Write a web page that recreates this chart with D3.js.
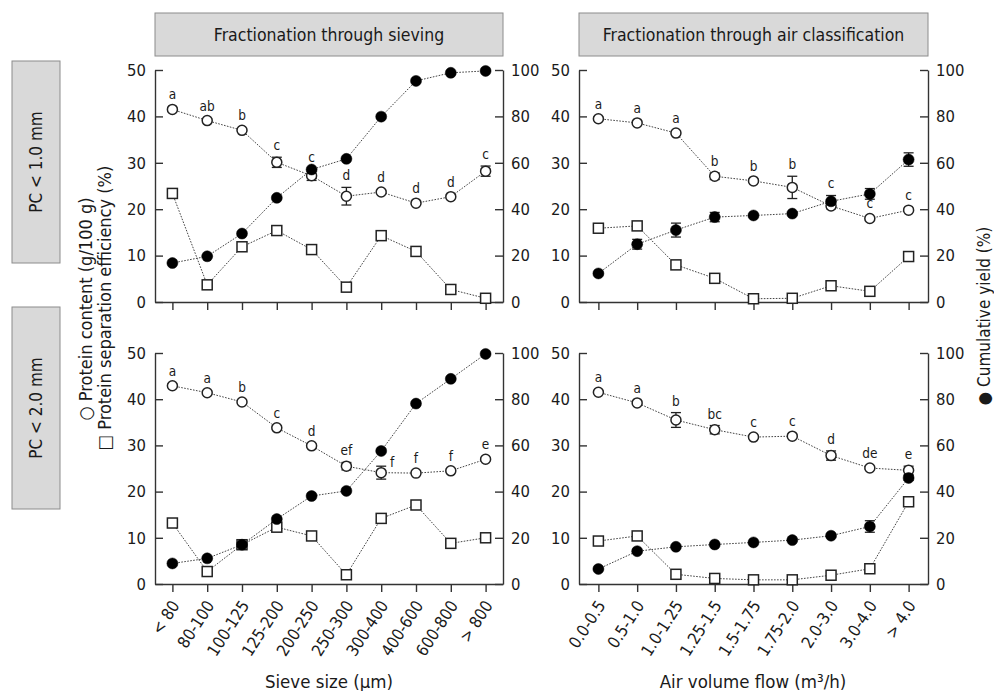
<!DOCTYPE html>
<html>
<head>
<meta charset="utf-8">
<script src="https://cdn.jsdelivr.net/npm/d3@7"></script>
<style>
body { margin: 0; background: #fff; }
svg text { font-family: "DejaVu Sans Condensed", "DejaVu Sans", sans-serif; fill: #1a1a1a; }
</style>
</head>
<body>
<div id="chart"></div>
<script>
// categories and ticks
var sieveCats = ["< 80", "80-100", "100-125", "125-200", "200-250", "250-300", "300-400", "400-600", "600-800", "> 800"];
var airCats = ["0.0-0.5", "0.5-1.0", "1.0-1.25", "1.25-1.5", "1.5-1.75", "1.75-2.0", "2.0-3.0", "3.0-4.0", "> 4.0"];
var leftTicks = [0, 10, 20, 30, 40, 50];
var rightTicks = [0, 20, 40, 60, 80, 100];
var colTitles = ["Fractionation through sieving", "Fractionation through air classification"];
var rowTitles = ["PC < 1.0 mm", "PC < 2.0 mm"];

// sieving, PC < 1.0 mm
var sieve1Protein = [41.5, 39.1, 37.0, 30.1, 27.2, 22.8, 23.7, 21.3, 22.7, 28.2];
var sieve1ProteinErr = [0.3, 0.3, 0.3, 1.1, 1.0, 1.9, 0.3, 0.3, 0.3, 1.1];
var sieve1Letters = ["a", "ab", "b", "c", "c", "d", "d", "d", "d", "c"];
var sieve1Separation = [23.4, 3.7, 11.9, 15.4, 11.3, 3.2, 14.3, 10.9, 2.7, 0.8];
var sieve1Yield = [16.8, 19.7, 29.5, 44.9, 57.1, 61.7, 79.9, 95.3, 98.8, 99.6];
var sieve1YieldErr = [0, 0, 0, 0, 0, 0, 0, 0, 0, 0];

// air classification, PC < 1.0 mm
var air1Protein = [39.5, 38.6, 36.4, 27.1, 26.1, 24.7, 20.7, 18.0, 19.8];
var air1ProteinErr = [0.3, 0.3, 0.3, 0.7, 0.3, 2.4, 0.6, 0.3, 0.3];
var air1Letters = ["a", "a", "a", "b", "b", "b", "c", "c", "c"];
var air1Separation = [15.9, 16.4, 8.0, 5.1, 0.7, 0.8, 3.5, 2.3, 9.8];
var air1Yield = [12.3, 24.9, 31.0, 36.6, 37.3, 38.1, 43.4, 46.6, 61.4];
var air1YieldErr = [0.5, 2.1, 3.0, 2.0, 0.5, 0.5, 2.5, 2.3, 2.9];

// sieving, PC < 2.0 mm
var sieve2Protein = [42.9, 41.4, 39.4, 33.8, 29.9, 25.5, 24.1, 24.0, 24.5, 27.0];
var sieve2ProteinErr = [0.3, 0.3, 0.3, 0.3, 0.3, 0.8, 1.4, 0.3, 0.3, 0.3];
var sieve2Letters = ["a", "a", "b", "c", "d", "ef", "f", "f", "f", "e"];
var sieve2Separation = [13.2, 2.7, 8.5, 12.3, 10.4, 2.0, 14.2, 17.1, 8.8, 10.0];
var sieve2Yield = [8.9, 11.1, 17.0, 28.1, 38.1, 40.3, 57.6, 78.1, 88.8, 99.6];
var sieve2YieldErr = [0, 0, 0, 0, 0, 0, 0, 0, 0, 0];

// air classification, PC < 2.0 mm
var air2Protein = [41.5, 39.2, 35.5, 33.4, 31.8, 32.0, 27.8, 25.1, 24.6];
var air2ProteinErr = [0.3, 0.3, 1.6, 0.9, 0.3, 0.3, 1.0, 0.3, 0.9];
var air2Letters = ["a", "a", "b", "bc", "c", "c", "d", "de", "e"];
var air2Separation = [9.3, 10.4, 2.1, 1.2, 0.9, 0.9, 1.9, 3.3, 17.8];
var air2Yield = [6.5, 14.2, 16.1, 17.1, 18.0, 19.0, 20.9, 24.9, 45.9];
var air2YieldErr = [0.3, 0.8, 0.3, 0.3, 0.3, 0.3, 0.5, 2.5, 1.0];

var width = 994, height = 691;
var cols = [{x0: 155, x1: 503}, {x0: 579, x1: 928}];
var rows = [{y0: 70, y1: 302}, {y0: 353, y1: 584}];

var panels = [
    {col: 0, row: 0, cats: sieveCats, protein: sieve1Protein, proteinErr: sieve1ProteinErr, letters: sieve1Letters,
     separation: sieve1Separation, yield: sieve1Yield, yieldErr: sieve1YieldErr, letterRight: []},
    {col: 1, row: 0, cats: airCats, protein: air1Protein, proteinErr: air1ProteinErr, letters: air1Letters,
     separation: air1Separation, yield: air1Yield, yieldErr: air1YieldErr, letterRight: []},
    {col: 0, row: 1, cats: sieveCats, protein: sieve2Protein, proteinErr: sieve2ProteinErr, letters: sieve2Letters,
     separation: sieve2Separation, yield: sieve2Yield, yieldErr: sieve2YieldErr, letterRight: [6]},
    {col: 1, row: 1, cats: airCats, protein: air2Protein, proteinErr: air2ProteinErr, letters: air2Letters,
     separation: air2Separation, yield: air2Yield, yieldErr: air2YieldErr, letterRight: []}
];

var axisColor = "#333";

var svg = d3.select("#chart").append("svg")
    .attr("width", width)
    .attr("height", height);

// column header boxes
cols.forEach(function (c, i) {
    svg.append("rect")
        .attr("x", c.x0).attr("y", 13)
        .attr("width", c.x1 - c.x0).attr("height", 43)
        .style("fill", "#d9d9d9").style("stroke", "#8c8c8c").style("stroke-width", 1);
    svg.append("text")
        .attr("x", (c.x0 + c.x1) / 2).attr("y", 35)
        .attr("dy", "0.35em")
        .style("text-anchor", "middle")
        .style("font-size", "17.5px")
        .text(colTitles[i]);
});

// row label boxes
var rowBoxes = [{y0: 61, y1: 263}, {y0: 307, y1: 509}];
rowBoxes.forEach(function (b, i) {
    svg.append("rect")
        .attr("x", 12).attr("y", b.y0)
        .attr("width", 48).attr("height", b.y1 - b.y0)
        .style("fill", "#d9d9d9").style("stroke", "#8c8c8c").style("stroke-width", 1);
    svg.append("text")
        .attr("transform", "translate(36," + (b.y0 + b.y1) / 2 + ") rotate(-90)")
        .attr("dy", "0.35em")
        .style("text-anchor", "middle")
        .style("font-size", "17px")
        .text(rowTitles[i]);
});

// left axis titles
svg.append("text")
    .attr("transform", "translate(86,309) rotate(-90)")
    .attr("dy", "0.35em")
    .style("text-anchor", "middle")
    .style("font-size", "18px")
    .text("\u25CB Protein content (g/100 g)");
svg.append("text")
    .attr("transform", "translate(105,308) rotate(-90)")
    .attr("dy", "0.35em")
    .style("text-anchor", "middle")
    .style("font-size", "18px")
    .text("\u25A1 Protein separation efficiency (%)");

// right axis title
svg.append("text")
    .attr("transform", "translate(984,316) rotate(-90)")
    .attr("dy", "0.35em")
    .style("text-anchor", "middle")
    .style("font-size", "17px")
    .text("\u25CF Cumulative yield (%)");

// x axis titles
svg.append("text")
    .attr("x", 329).attr("y", 682).attr("dy", "0.35em")
    .style("text-anchor", "middle").style("font-size", "18.5px")
    .text("Sieve size (\u00B5m)");
svg.append("text")
    .attr("x", 753).attr("y", 682).attr("dy", "0.35em")
    .style("text-anchor", "middle").style("font-size", "18.5px")
    .text("Air volume flow (m\u00B3/h)");

var styleAxis = function (g) {
    g.selectAll("path, line").style("stroke", axisColor).style("stroke-width", 1.4);
    g.selectAll("text").style("font-size", "16.5px").style("fill", "#1a1a1a")
        .style("font-family", "\"DejaVu Sans Condensed\", \"DejaVu Sans\", sans-serif");
};

var drawErr = function (g, xs, ys, cats, vals, errs) {
    var cap = 5;
    vals.forEach(function (v, i) {
        if (!errs[i]) return;
        var x = xs(cats[i]);
        var eg = g.append("g").attr("class", "errbar");
        eg.append("line").attr("x1", x).attr("x2", x).attr("y1", ys(v - errs[i])).attr("y2", ys(v + errs[i]));
        eg.append("line").attr("x1", x - cap).attr("x2", x + cap).attr("y1", ys(v - errs[i])).attr("y2", ys(v - errs[i]));
        eg.append("line").attr("x1", x - cap).attr("x2", x + cap).attr("y1", ys(v + errs[i])).attr("y2", ys(v + errs[i]));
        eg.selectAll("line").style("stroke", "#222").style("stroke-width", 1.3);
    });
};

panels.forEach(function (p) {
    var c = cols[p.col], r = rows[p.row];
    var xScale = d3.scalePoint().domain(p.cats).range([c.x0, c.x1]).padding(0.5);
    var yLeft = d3.scaleLinear().domain([0, 50]).range([r.y1, r.y0]);
    var yRight = d3.scaleLinear().domain([0, 100]).range([r.y1, r.y0]);

    var g = svg.append("g").attr("class", "panel");

    // axes (category labels only on the bottom row)
    var xAxisGen = d3.axisBottom(xScale).tickSizeInner(8).tickSizeOuter(0);
    if (p.row === 0) xAxisGen.tickFormat("");
    var xAxis = g.append("g").attr("class", "x axis")
        .attr("transform", "translate(0," + r.y1 + ")")
        .call(xAxisGen);
    styleAxis(xAxis);
    xAxis.selectAll("text")
        .attr("x", -14).attr("y", 12).attr("dy", "0.35em")
        .attr("transform", "rotate(-57)")
        .style("text-anchor", "end");

    var lAxis = g.append("g").attr("class", "y axis")
        .attr("transform", "translate(" + c.x0 + ",0)")
        .call(d3.axisLeft(yLeft).tickValues(leftTicks).tickSizeInner(-8).tickSizeOuter(0).tickPadding(9));
    styleAxis(lAxis);

    var rAxis = g.append("g").attr("class", "y axis right")
        .attr("transform", "translate(" + c.x1 + ",0)")
        .call(d3.axisRight(yRight).tickValues(rightTicks).tickSizeInner(-8).tickSizeOuter(0).tickPadding(8));
    styleAxis(rAxis);

    // dotted connecting lines
    var lineL = d3.line().x(function (d, i) { return xScale(p.cats[i]); }).y(function (d) { return yLeft(d); });
    var lineR = d3.line().x(function (d, i) { return xScale(p.cats[i]); }).y(function (d) { return yRight(d); });
    [[p.separation, lineL], [p.protein, lineL], [p.yield, lineR]].forEach(function (s) {
        g.append("path").datum(s[0])
            .attr("d", s[1])
            .style("fill", "none")
            .style("stroke", "#444")
            .style("stroke-width", 1)
            .style("stroke-dasharray", "1.6,1.4");
    });

    // error bars
    drawErr(g, xScale, yLeft, p.cats, p.protein, p.proteinErr);
    drawErr(g, xScale, yRight, p.cats, p.yield, p.yieldErr);

    // squares: protein separation efficiency
    g.selectAll("rect.sep").data(p.separation).enter().append("rect")
        .attr("class", "sep")
        .attr("x", function (d, i) { return xScale(p.cats[i]) - 5; })
        .attr("y", function (d) { return yLeft(d) - 5; })
        .attr("width", 10).attr("height", 10)
        .style("fill", "#fff").style("stroke", "#222").style("stroke-width", 1.5);

    // open circles: protein content
    g.selectAll("circle.prot").data(p.protein).enter().append("circle")
        .attr("class", "prot")
        .attr("cx", function (d, i) { return xScale(p.cats[i]); })
        .attr("cy", function (d) { return yLeft(d); })
        .attr("r", 5)
        .style("fill", "#fff").style("stroke", "#222").style("stroke-width", 1.5);

    // filled circles: cumulative yield
    g.selectAll("circle.yield").data(p.yield).enter().append("circle")
        .attr("class", "yield")
        .attr("cx", function (d, i) { return xScale(p.cats[i]); })
        .attr("cy", function (d) { return yRight(d); })
        .attr("r", 5.5)
        .style("fill", "#000").style("stroke", "#000").style("stroke-width", 0.5);

    // significance letters, lifted over a yield marker if one sits just under them
    g.selectAll("text.letter").data(p.letters).enter().append("text")
        .attr("class", "letter")
        .attr("x", function (d, i) {
            return xScale(p.cats[i]) + (p.letterRight.indexOf(i) >= 0 ? 11 : 0);
        })
        .attr("y", function (d, i) {
            var y = yLeft(p.protein[i]);
            var top = yLeft(p.protein[i] + p.proteinErr[i]);
            if (p.letterRight.indexOf(i) >= 0) return y - 6;
            var b = Math.min(y - 10, top - 7);
            var yc = yRight(p.yield[i]);
            var yTop = yRight(p.yield[i] + p.yieldErr[i]) - 6;
            if (yc > b - 8 && yTop < b && yc < y) b = yTop - 2;
            return b;
        })
        .style("text-anchor", "middle")
        .style("font-size", "13.5px")
        .style("fill", "#1a1a1a")
        .text(function (d) { return d; });
});
</script>
</body>
</html>
